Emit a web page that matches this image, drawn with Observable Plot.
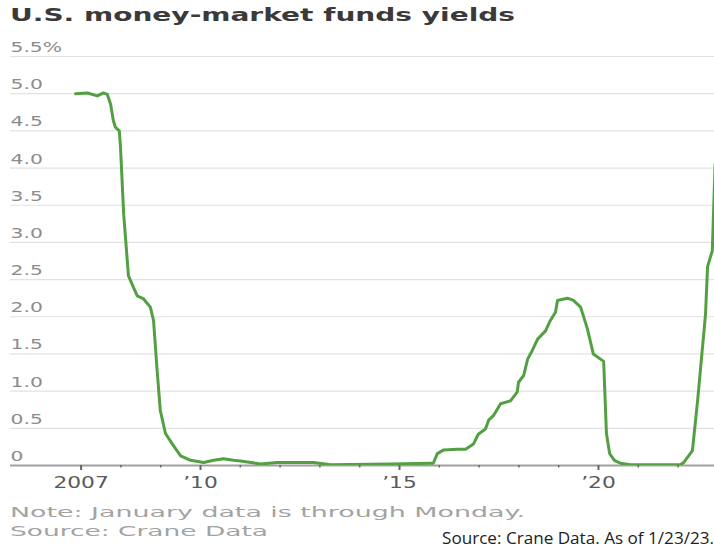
<!DOCTYPE html>
<html>
<head>
<meta charset="utf-8">
<script src="https://cdn.jsdelivr.net/npm/d3@7"></script>
<script src="https://cdn.jsdelivr.net/npm/@observablehq/plot@0.6"></script>
<style>
  html, body { margin: 0; padding: 0; background: #fff; }
  #wrap { position: relative; width: 714px; height: 548px; overflow: hidden; }
  .stretch { position: absolute; white-space: nowrap; transform-origin: 0 0; line-height: 1; }
  #title { left: 10px; top: 6px; font-family: "DejaVu Sans", sans-serif; font-weight: bold; font-size: 18px; color: #3a3a3a; }
  #note { left: 10px; top: 505px; font-family: "DejaVu Sans", sans-serif; font-size: 14px; color: #a3a3a3; }
  #src { left: 10px; top: 524px; font-family: "DejaVu Sans", sans-serif; font-size: 14px; color: #a3a3a3; }
  #credit { left: 442px; top: 530px; font-family: "Open Sans", sans-serif; font-size: 16px; color: #222; }
  #chart { position: absolute; left: 0; top: 0; }
</style>
</head>
<body>
<div id="wrap">
  <div id="chart"></div>
  <div id="title" class="stretch" data-w="505">U.S. money-market funds yields</div>
  <div id="note" class="stretch" data-w="515">Note: January data is through Monday.</div>
  <div id="src" class="stretch" data-w="258">Source: Crane Data</div>
  <div id="credit" class="stretch" data-w="272">Source: Crane Data. As of 1/23/23.</div>
</div>
<script>
// Decimal-year dates and yields (%)
const years = [
  2006.86, 2007.16, 2007.41, 2007.56, 2007.66, 2007.74, 2007.81, 2007.86, 2007.96, 2007.99,
  2008.07, 2008.19, 2008.28, 2008.41, 2008.57, 2008.74, 2008.82, 2008.91, 2008.99, 2009.12,
  2009.29, 2009.50, 2009.75, 2010.08, 2010.33, 2010.58, 2010.83, 2011.01, 2011.51, 2011.93,
  2012.84, 2013.27, 2014.77, 2015.78, 2015.85, 2015.95, 2016.11, 2016.46, 2016.66, 2016.86,
  2016.98, 2017.16, 2017.24, 2017.36, 2017.54, 2017.79, 2017.96, 2017.99, 2018.12, 2018.22,
  2018.34, 2018.47, 2018.67, 2018.79, 2018.92, 2018.97, 2019.22, 2019.37, 2019.55, 2019.72,
  2019.87, 2020.13, 2020.20, 2020.28, 2020.40, 2020.55, 2020.80, 2022.06, 2022.14, 2022.36,
  2022.49, 2022.69, 2022.74, 2022.86, 2022.93
];
const yields = [
  5.00, 5.01, 4.97, 5.01, 4.99, 4.86, 4.64, 4.55, 4.50, 4.28,
  3.38, 2.55, 2.44, 2.28, 2.24, 2.13, 1.95, 1.28, 0.74, 0.43,
  0.29, 0.13, 0.07, 0.04, 0.07, 0.09, 0.07, 0.06, 0.02, 0.04,
  0.04, 0.01, 0.02, 0.03, 0.03, 0.16, 0.21, 0.22, 0.22, 0.29,
  0.42, 0.49, 0.61, 0.67, 0.83, 0.87, 0.99, 1.12, 1.21, 1.43,
  1.55, 1.70, 1.81, 1.95, 2.06, 2.22, 2.25, 2.22, 2.13, 1.84,
  1.50, 1.40, 0.43, 0.16, 0.07, 0.03, 0.01, 0.01, 0.04, 0.20,
  0.87, 2.04, 2.67, 2.89, 4.05
];
const yTicks = [0, 0.5, 1, 1.5, 2, 2.5, 3, 3.5, 4, 4.5, 5, 5.5];
const yLabels = ["0", "0.5", "1.0", "1.5", "2.0", "2.5", "3.0", "3.5", "4.0", "4.5", "5.0", "5.5%"];
const minorYears = [2007, 2008, 2009, 2011, 2012, 2013, 2014, 2016, 2017, 2018, 2019, 2021, 2022];
const labelYears = [2007, 2010, 2015, 2020];
const xLabels = ["2007", "\u201910", "\u201915", "\u201920"];

const data = years.map((t, i) => ({t, v: yields[i]}));

const plot = Plot.plot({
  width: 714,
  height: 500,
  marginTop: 56,
  marginBottom: 35,
  marginLeft: 10,
  marginRight: 0,
  x: {domain: [2005.226, 2022.915]},
  y: {domain: [0, 5.5]},
  style: {fontFamily: "DejaVu Sans, sans-serif", fontSize: "14px", background: "transparent", overflow: "visible"},
  marks: [
    Plot.gridY(yTicks.filter(d => d > 0), {stroke: "#e2e2e2", strokeOpacity: 1, strokeWidth: 1.2}),
    Plot.axisY(yTicks, {
      tickSize: 0, tickPadding: 0, textAnchor: "start", dy: -9,
      tickFormat: d => yLabels[yTicks.indexOf(d)], fill: "#8c8c8c", fontSize: 14, label: null
    }),
    Plot.ruleY([0], {stroke: "#a0a0a0", strokeWidth: 2}),
    Plot.axisX(minorYears, {tickSize: 2.5, tickFormat: () => "", stroke: "#666", strokeWidth: 1.5, label: null}),
    Plot.axisX(labelYears, {
      tickSize: 5, tickPadding: 7, tickFormat: d => xLabels[labelYears.indexOf(d)],
      fill: "#5a5a5a", stroke: "#666", strokeWidth: 2, fontSize: 15, label: null
    }),
    Plot.line(data, {x: "t", y: "v", stroke: "#53a043", strokeWidth: 3, clip: true, strokeLinejoin: "round"})
  ]
});
document.getElementById("chart").appendChild(plot);

// The reference's typography is horizontally stretched; widen the SVG labels likewise.
plot.querySelectorAll("text").forEach(t => {
  if (!t.textContent) return;
  const w = t.getComputedTextLength();
  if (w > 0) {
    t.setAttribute("textLength", (w * 1.45).toFixed(1));
    t.setAttribute("lengthAdjust", "spacingAndGlyphs");
  }
});
document.querySelectorAll(".stretch").forEach(el => {
  const w = el.getBoundingClientRect().width;
  const target = +el.dataset.w;
  el.style.transform = `scaleX(${target / w})`;
});
</script>
</body>
</html>
